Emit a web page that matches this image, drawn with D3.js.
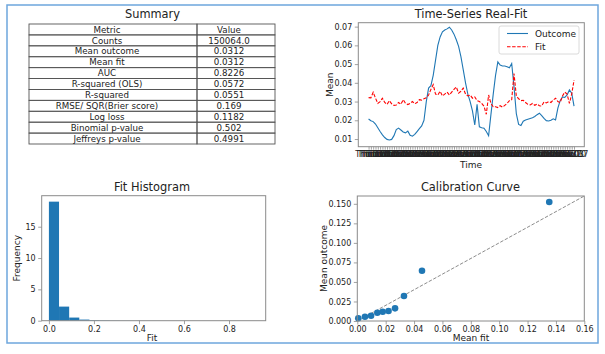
<!DOCTYPE html>
<html><head><meta charset="utf-8">
<script src="https://cdn.jsdelivr.net/npm/d3@7"></script>
<style>body{margin:0;background:#fff}svg{display:block;font-family:"DejaVu Sans",sans-serif}</style>
</head><body><svg id="c" width="605" height="354"></svg>
<script>
// ---------------- data ----------------
const metricNames = ["Counts","Mean outcome","Mean fit","AUC","R-squared (OLS)","R-squared","RMSE/ SQR(Brier score)","Log loss","Binomial p-value","Jeffreys p-value"];
const metricValues = ["150064.0","0.0312","0.0312","0.8226","0.0572","0.0551","0.169","0.1182","0.502","0.4991"];
const tableHeader = ["Metric","Value"];

const timeLabels = d3.range(90).map(i => d3.utcFormat("%a %d")(d3.utcDay.offset(new Date(Date.UTC(2019,0,3)), 7*i)));
const outcomeSeries = [0.0207,0.0198,0.0193,0.0180,0.0160,0.0140,0.0122,0.0108,0.0098,0.0095,
0.0098,0.0118,0.0150,0.0158,0.0148,0.0138,0.0133,0.0142,0.0120,0.0115,
0.0125,0.0140,0.0155,0.0170,0.0200,0.0300,0.0372,0.0385,0.0440,0.0520,
0.0600,0.0645,0.0672,0.0682,0.0688,0.0697,0.0682,0.0660,0.0630,0.0595,
0.0540,0.0470,0.0400,0.0340,0.0300,0.0250,0.0175,0.0285,0.0165,0.0160,
0.0158,0.0140,0.0118,0.0230,0.0340,0.0440,0.0512,0.0495,0.0490,0.0490,
0.0486,0.0480,0.0503,0.0380,0.0236,0.0178,0.0172,0.0195,0.0202,0.0206,
0.0210,0.0214,0.0220,0.0230,0.0238,0.0225,0.0210,0.0198,0.0196,0.0200,
0.0208,0.0202,0.0265,0.0305,0.0325,0.0322,0.0335,0.0362,0.0345,0.0276];
const fitSeries = [0.0321,0.0320,0.0350,0.0318,0.0290,0.0300,0.0318,0.0295,0.0285,0.0305,
0.0288,0.0280,0.0282,0.0295,0.0285,0.0310,0.0290,0.0284,0.0290,0.0300,
0.0288,0.0295,0.0310,0.0308,0.0315,0.0320,0.0335,0.0365,0.0390,0.0340,
0.0335,0.0355,0.0330,0.0340,0.0350,0.0335,0.0350,0.0365,0.0378,0.0345,
0.0355,0.0372,0.0340,0.0330,0.0335,0.0318,0.0325,0.0305,0.0300,0.0290,
0.0275,0.0232,0.0335,0.0290,0.0272,0.0272,0.0268,0.0278,0.0270,0.0280,
0.0290,0.0305,0.0310,0.0450,0.0330,0.0315,0.0305,0.0307,0.0295,0.0285,
0.0282,0.0290,0.0280,0.0287,0.0278,0.0276,0.0298,0.0293,0.0300,0.0295,
0.0308,0.0318,0.0300,0.0295,0.0330,0.0350,0.0340,0.0290,0.0340,0.0414];
const timeYTicks = [0.01,0.02,0.03,0.04,0.05,0.06,0.07];

const histBinEdges = [0,0.045,0.09,0.135,0.18,0.225,0.27,0.315,0.36,0.405,0.45,0.495,0.54,0.585,0.63,0.675,0.72,0.765,0.81,0.855,0.9];
const histDensity = [19.0,2.25,0.5,0.18,0.09,0.05,0.03,0.02,0.01,0.005,0.003,0.002,0.0015,0.001,0.001,0.0005,0.0005,0.0003,0.0002,0.0002];
const histXTicks = [0.0,0.2,0.4,0.6,0.8];
const histYTicks = [0,5,10,15];

const calibFit = [0.0007,0.0054,0.0097,0.0141,0.0179,0.0220,0.0266,0.0329,0.0456,0.1353];
const calibOutcome = [0.0035,0.0055,0.0068,0.0106,0.0119,0.0128,0.0162,0.0320,0.0644,0.1523];
const calXTicks = [0,0.02,0.04,0.06,0.08,0.10,0.12,0.14,0.16];
const calYTicks = [0,0.025,0.05,0.075,0.10,0.125,0.15];

// ---------------- styles ----------------
const svg = d3.select("#c");
const TXT = "#222", SPINE = "#8a8a8a", BLUE = "#1f77b4", RED = "#ff0000";

svg.append("rect").attr("x",7).attr("y",5).attr("width",591).attr("height",338)
  .attr("fill","none").attr("stroke","#6ea6dd").attr("stroke-width",1.5);

function title(x,y,s){ svg.append("text").attr("x",x).attr("y",y).attr("text-anchor","middle").attr("font-size",11.4).attr("fill",TXT).text(s); }
function label(x,y,s,rot){ const t=svg.append("text").attr("text-anchor","middle").attr("font-size",9).attr("fill",TXT).text(s);
  if(rot) t.attr("transform",`translate(${x},${y}) rotate(-90)`); else t.attr("x",x).attr("y",y); }
function styleAxis(g){ g.select(".domain").remove(); g.selectAll(".tick line").attr("stroke",SPINE).attr("stroke-width",0.8);
  g.selectAll(".tick text").attr("fill",TXT).attr("font-size",8).attr("font-family","DejaVu Sans"); }
function frame(b){ svg.append("rect").attr("x",b.l).attr("y",b.t).attr("width",b.r-b.l).attr("height",b.b-b.t)
  .attr("fill","none").attr("stroke",SPINE).attr("stroke-width",1); }

// ---------------- Summary table ----------------
title(152.5,18.3,"Summary");
const tb = {x0:29, x1:275, xm:197, y0:24, y1:144};
const rows = [tableHeader].concat(metricNames.map((m,i)=>[m,metricValues[i]]));
const rowH = (tb.y1-tb.y0)/rows.length;
const tg = svg.append("g");
rows.forEach((r,i)=>{
  const y = tb.y0 + i*rowH;
  tg.append("rect").attr("x",tb.x0).attr("y",y).attr("width",tb.xm-tb.x0).attr("height",rowH).attr("fill","none").attr("stroke","#555").attr("stroke-width",0.9);
  tg.append("rect").attr("x",tb.xm).attr("y",y).attr("width",tb.x1-tb.xm).attr("height",rowH).attr("fill","none").attr("stroke","#555").attr("stroke-width",0.9);
  tg.append("text").attr("x",107).attr("y",y+rowH/2+3.2).attr("text-anchor","middle").attr("font-size",8.7).attr("fill",TXT).text(r[0]);
  tg.append("text").attr("x",229).attr("y",y+rowH/2+3.2).attr("text-anchor","middle").attr("font-size",8.7).attr("fill",TXT).text(r[1]);
});

// ---------------- Time series ----------------
title(471,18.3,"Time-Series Real-Fit");
const ts = {l:358.3,r:584.3,t:22.7,b:146.7};
const idx = d3.range(timeLabels.length);
const xT = d3.scalePoint().domain(idx).range([ts.l,ts.r]).padding(4.45);
const yT = d3.scaleLinear().domain([0.0059,0.0721]).range([ts.b,ts.t]);
svg.append("g").attr("transform",`translate(${ts.l},0)`).call(d3.axisLeft(yT).tickValues(timeYTicks).tickFormat(d3.format(".2f")).tickSize(3.5).tickPadding(2.5)).call(styleAxis);
svg.append("g").attr("transform",`translate(0,${ts.b})`).call(d3.axisBottom(xT).tickFormat(i=>timeLabels[i]).tickSize(3).tickPadding(1.5)).call(styleAxis);
svg.append("path").datum(outcomeSeries).attr("fill","none").attr("stroke",BLUE).attr("stroke-width",1.1)
  .attr("d",d3.line().x((d,i)=>xT(i)).y(d=>yT(d)));
svg.append("path").datum(fitSeries).attr("fill","none").attr("stroke",RED).attr("stroke-width",1.1).attr("stroke-dasharray","3.5,1.6")
  .attr("d",d3.line().x((d,i)=>xT(i)).y(d=>yT(d)));
frame(ts);
label(333,84.7,"Mean",true);
label(471,167.5,"Time");
// legend
const lg = svg.append("g");
lg.append("rect").attr("x",499).attr("y",26).attr("width",80).attr("height",28).attr("rx",2).attr("fill","#fff").attr("stroke","#d0d0d0").attr("stroke-width",0.8);
[["Outcome",BLUE,null],["Fit",RED,"3.5,1.6"]].forEach((e,i)=>{
  const y = 33.5 + i*13.2;
  const l = lg.append("line").attr("x1",507).attr("x2",528).attr("y1",y).attr("y2",y).attr("stroke",e[1]).attr("stroke-width",1.1);
  if(e[2]) l.attr("stroke-dasharray",e[2]);
  lg.append("text").attr("x",535).attr("y",y+3.2).attr("font-size",9).attr("fill",TXT).text(e[0]);
});

// ---------------- Histogram ----------------
title(152,191.2,"Fit Histogram");
const hs = {l:41.7,r:265.7,t:195.7,b:320.7};
const xH = d3.scaleLinear().domain([-0.032,0.963]).range([hs.l,hs.r]);
const yH = d3.scaleLinear().domain([0,19.95]).range([hs.b,hs.t]);
svg.append("g").selectAll("rect").data(histDensity).join("rect")
  .attr("x",(d,i)=>xH(histBinEdges[i])).attr("width",(d,i)=>xH(histBinEdges[i+1])-xH(histBinEdges[i]))
  .attr("y",d=>yH(d)).attr("height",d=>hs.b-yH(d)).attr("fill",BLUE);
svg.append("g").attr("transform",`translate(${hs.l},0)`).call(d3.axisLeft(yH).tickValues(histYTicks).tickFormat(d3.format("d")).tickSize(3.5).tickPadding(2.5)).call(styleAxis);
svg.append("g").attr("transform",`translate(0,${hs.b})`).call(d3.axisBottom(xH).tickValues(histXTicks).tickFormat(d3.format(".1f")).tickSize(3.5).tickPadding(2)).call(styleAxis);
frame(hs);
label(19.5,258.2,"Frequency",true);
label(152,340.5,"Fit");

// ---------------- Calibration ----------------
title(470.5,191.2,"Calibration Curve");
const cs = {l:357.3,r:584.3,t:196,b:321};
const xC = d3.scaleLinear().domain([0,0.16]).range([cs.l,cs.r]);
const yC = d3.scaleLinear().domain([0,0.16]).range([cs.b,cs.t]);
svg.append("line").attr("x1",xC(0)).attr("y1",yC(0)).attr("x2",xC(0.16)).attr("y2",yC(0.16))
  .attr("stroke","#8c8c8c").attr("stroke-width",1).attr("stroke-dasharray","3.5,1.6");
svg.append("g").selectAll("circle").data(calibFit).join("circle")
  .attr("cx",d=>xC(d)).attr("cy",(d,i)=>yC(calibOutcome[i])).attr("r",3.3).attr("fill",BLUE);
svg.append("g").attr("transform",`translate(${cs.l},0)`).call(d3.axisLeft(yC).tickValues(calYTicks).tickFormat(d3.format(".3f")).tickSize(3.5).tickPadding(2.5)).call(styleAxis);
svg.append("g").attr("transform",`translate(0,${cs.b})`).call(d3.axisBottom(xC).tickValues(calXTicks).tickFormat(d3.format(".2f")).tickSize(3.5).tickPadding(2)).call(styleAxis);
frame(cs);
label(326.5,258.5,"Mean outcome",true);
label(471,340.5,"Mean fit");
</script></body></html>
